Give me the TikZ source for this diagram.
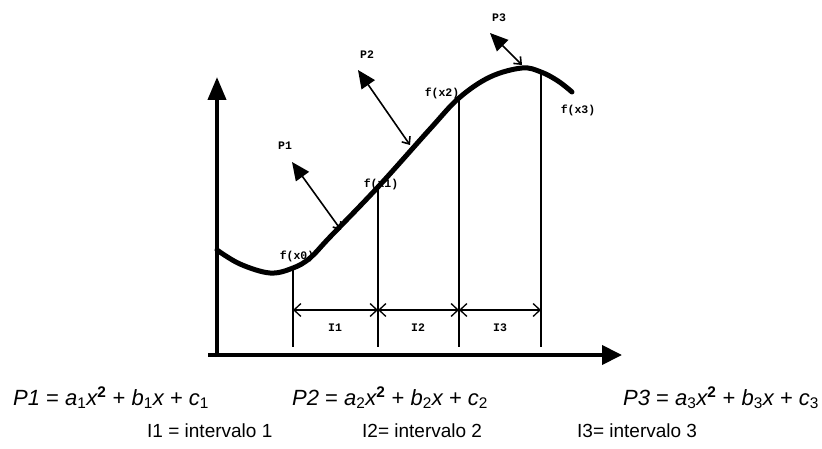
\documentclass[tikz,border=0pt]{standalone}
\usepackage{fontspec}
\setmainfont{Liberation Sans}
\newfontfamily\lblfont{Liberation Mono}
\usetikzlibrary{arrows.meta}
\newcommand\fsb[1]{\textsubscript{\upshape #1}}
\newcommand\fsp[1]{\textsuperscript{\upshape\bfseries #1}}
\begin{document}
\begin{tikzpicture}[x=1pt,y=-1pt]
\useasboundingbox (0,0) rectangle (822,449);
\tikzset{
 axis/.style={line width=4pt},
 curve/.style={line width=5pt, line cap=round},
 vline/.style={line width=1.3pt},
 lbl/.style={font=\lblfont\bfseries\fontsize{11.5}{12}\selectfont, inner sep=0pt},
 parrow/.style={line width=1.6pt, {Triangle[length=18pt,width=16pt]}-{Straight Barb[length=6pt,width=10pt]}},
 iarrow/.style={line width=1.3pt, {Straight Barb[length=7pt,width=13pt]}-{Straight Barb[length=7pt,width=13pt]}},
 formula/.style={font=\fontsize{22}{24}\selectfont, inner sep=0pt, anchor=base west},
 intv/.style={font=\fontsize{19}{21}\selectfont, inner sep=0pt, anchor=base west},
}
% axes
\coordinate (yb) at (217,357);
\coordinate (yt) at (217,77);
\coordinate (xb) at (208,355);
\coordinate (xt) at (622,355);
\draw[axis,-{Triangle[length=23pt,width=18pt]}] (yb) -- (yt);
\draw[axis,-{Triangle[length=20pt,width=19pt]}] (xb) -- (xt);
% curve
\draw[curve] plot[smooth, tension=0.6] coordinates {(217,250) (240,264) (270,273) (293,268) (310,258) (330,237) (378,187) (430,129) (459,98) (490,77) (522,68) (541,72) (558,81) (572,92)};
% interval points
\coordinate (f0) at (293,269);
\coordinate (f1) at (378,188);
\coordinate (f2) at (459,99);
\coordinate (f3) at (541,71);
\coordinate (b0) at (293,347);
\coordinate (b1) at (378,347);
\coordinate (b2) at (459,347);
\coordinate (b3) at (541,347);
\foreach \i in {0,1,2,3} \draw[vline] (f\i) -- (b\i);
\coordinate (i0) at (293,310);
\coordinate (i1) at (378,310);
\coordinate (i2) at (459,310);
\coordinate (i3) at (541,310);
\draw[iarrow] (i0) -- (i1);
\draw[iarrow] (i1) -- (i2);
\draw[iarrow] (i2) -- (i3);
\node[lbl] (I1) at (335,328) {I1};
\node[lbl] (I2) at (418,328) {I2};
\node[lbl] (I3) at (500,328) {I3};
% f labels
\node[lbl] (lf0) at (297,256) {f(x0)};
\node[lbl] (lf1) at (381,184) {f(x1)};
\node[lbl] (lf2) at (442,93) {f(x2)};
\node[lbl] (lf3) at (578,110) {f(x3)};
% P arrows
\coordinate (p1o) at (292,162);
\coordinate (p1i) at (341,230);
\coordinate (p2o) at (358,70);
\coordinate (p2i) at (410,145);
\coordinate (p3o) at (490,33);
\coordinate (p3i) at (522,65);
\draw[parrow] (p1o) -- (p1i);
\draw[parrow] (p2o) -- (p2i);
\draw[parrow] (p3o) -- (p3i);
\node[lbl] (lp1) at (285,146) {P1};
\node[lbl] (lp2) at (367,55) {P2};
\node[lbl] (lp3) at (499,18) {P3};
% formulas
\node[formula] (fp1) at (13,405) {\itshape P1 {\upshape=} a\fsb{1}x\fsp{2} {\upshape+} b\fsb{1}x {\upshape+} c\fsb{1}};
\node[formula] (fp2) at (292,405) {\itshape P2 {\upshape=} a\fsb{2}x\fsp{2} {\upshape+} b\fsb{2}x {\upshape+} c\fsb{2}};
\node[formula] (fp3) at (623,405) {\itshape P3 {\upshape=} a\fsb{3}x\fsp{2} {\upshape+} b\fsb{3}x {\upshape+} c\fsb{3}};
\node[intv] (in1) at (147,437) {I1 = intervalo 1};
\node[intv] (in2) at (362,437) {I2= intervalo 2};
\node[intv] (in3) at (577,437) {I3= intervalo 3};
\end{tikzpicture}
\end{document}
